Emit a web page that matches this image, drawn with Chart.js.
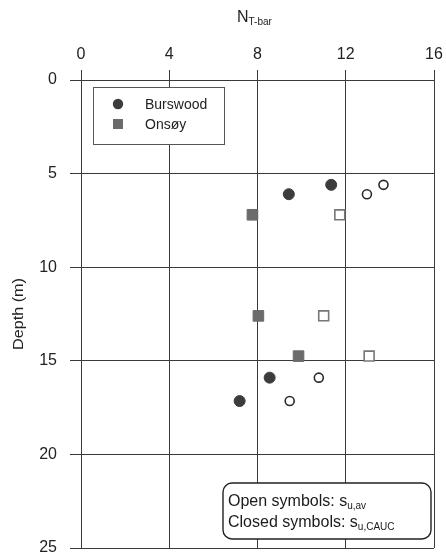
<!DOCTYPE html>
<html>
<head>
<meta charset="utf-8">
<script src="https://cdn.jsdelivr.net/npm/chart.js@4"></script>
<style>
  html, body { margin: 0; padding: 0; background: #fff; }
  #wrap { width: 446px; height: 557px; }
</style>
</head>
<body>
<div id="wrap"><canvas id="c" width="446" height="557"></canvas></div>
<script>
// T-bar factor N_T-bar against depth for two soft clay sites
const burswoodDepth = [5.6, 6.1, 15.9, 17.15];
const burswoodCAUC  = [11.34, 9.42, 8.55, 7.19];   // closed: s_u,CAUC
const burswoodAv    = [13.71, 12.96, 10.78, 9.46]; // open: s_u,av

const onsoyDepth = [7.2, 12.6, 14.75];
const onsoyCAUC  = [7.77, 8.04, 9.86];
const onsoyAv    = [11.73, 11.0, 13.06];

const xTicks = [0, 4, 8, 12, 16];
const yTicks = [0, 5, 10, 15, 20, 25];

const FONT = '"Liberation Sans", Arial, sans-serif';
const DARK = '#3c3c3c';
const GREY = '#6b6b6b';

const pts = (xs, ys) => xs.map((x, i) => ({ x: x, y: ys[i] }));

const datasets = [
  { label: 'Burswood', data: pts(burswoodCAUC, burswoodDepth), pointStyle: 'circle',
    pointRadius: 5.5, backgroundColor: DARK, borderColor: DARK, borderWidth: 1 },
  { label: 'Burswood (av)', data: pts(burswoodAv, burswoodDepth), pointStyle: 'circle',
    pointRadius: 4.5, backgroundColor: '#fff', borderColor: '#2a2a2a', borderWidth: 1.6 },
  { label: 'Onsøy', data: pts(onsoyCAUC, onsoyDepth), pointStyle: 'rect',
    pointRadius: 7.5, backgroundColor: GREY, borderColor: GREY, borderWidth: 1 },
  { label: 'Onsøy (av)', data: pts(onsoyAv, onsoyDepth), pointStyle: 'rect',
    pointRadius: 7, backgroundColor: '#fff', borderColor: '#777', borderWidth: 1.6 }
];

// Draws text with a trailing subscript
function subText(ctx, x, y, main, sub, size, subSize, drop) {
  ctx.font = size + 'px ' + FONT;
  ctx.fillText(main, x, y);
  const w = ctx.measureText(main).width;
  ctx.font = subSize + 'px ' + FONT;
  ctx.fillText(sub, x + w, y + drop);
}

function roundRect(ctx, x, y, w, h, r) {
  ctx.beginPath();
  ctx.moveTo(x + r, y);
  ctx.lineTo(x + w - r, y);
  ctx.arcTo(x + w, y, x + w, y + r, r);
  ctx.lineTo(x + w, y + h - r);
  ctx.arcTo(x + w, y + h, x + w - r, y + h, r);
  ctx.lineTo(x + r, y + h);
  ctx.arcTo(x, y + h, x, y + h - r, r);
  ctx.lineTo(x, y + r);
  ctx.arcTo(x, y, x + r, y, r);
  ctx.closePath();
}

const decorations = {
  id: 'decorations',
  afterDraw(chart) {
    const ctx = chart.ctx;
    const area = chart.chartArea;
    ctx.save();
    ctx.fillStyle = '#222';
    ctx.textBaseline = 'alphabetic';

    // top axis title
    ctx.textAlign = 'left';
    subText(ctx, 237, 22, 'N', 'T-bar', 16, 10, 3);

    // left axis title (slightly widened lettering)
    ctx.save();
    ctx.translate(23, (area.top + area.bottom) / 2);
    ctx.rotate(-Math.PI / 2);
    ctx.textAlign = 'center';
    ctx.font = '14px ' + FONT;
    const tw = ctx.measureText('Depth (m)').width;
    ctx.scale(72 / tw, 1);
    ctx.fillText('Depth (m)', 0, 0);
    ctx.restore();

    // legend box
    ctx.fillStyle = '#fff';
    ctx.fillRect(93.5, 87.5, 131, 57);
    ctx.strokeStyle = '#555';
    ctx.lineWidth = 1;
    ctx.strokeRect(93.5, 87.5, 131, 57);
    const legendRows = [
      { ds: datasets[0], y: 104 },
      { ds: datasets[2], y: 124 }
    ];
    legendRows.forEach(row => {
      const d = row.ds;
      ctx.fillStyle = d.backgroundColor;
      ctx.beginPath();
      if (d.pointStyle === 'rect') {
        ctx.rect(113, row.y - 5, 10, 10);
      } else {
        ctx.arc(118, row.y, 5.2, 0, Math.PI * 2);
      }
      ctx.fill();
      ctx.fillStyle = '#222';
      ctx.font = '14px ' + FONT;
      ctx.textAlign = 'left';
      ctx.textBaseline = 'middle';
      ctx.fillText(d.label, 145, row.y + 1);
    });

    // symbol note box
    ctx.textBaseline = 'alphabetic';
    roundRect(ctx, 223, 483, 208, 56, 9);
    ctx.fillStyle = '#fff';
    ctx.fill();
    ctx.strokeStyle = '#222';
    ctx.lineWidth = 1.4;
    ctx.stroke();
    ctx.fillStyle = '#1a1a1a';
    ctx.textAlign = 'left';
    subText(ctx, 228, 506, 'Open symbols: s', 'u,av', 16, 10, 3);
    subText(ctx, 228, 527, 'Closed symbols: s', 'u,CAUC', 16, 10, 3);
    ctx.restore();
  }
};

new Chart(document.getElementById('c'), {
  type: 'scatter',
  data: { datasets: datasets },
  options: {
    responsive: false,
    animation: false,
    devicePixelRatio: 1,
    layout: { padding: { top: 0, right: 12, bottom: 9, left: 0 } },
    plugins: {
      legend: { display: false },
      tooltip: { enabled: false }
    },
    scales: {
      x: {
        type: 'linear',
        position: 'top',
        min: 0, max: 16,
        afterBuildTicks: s => { s.ticks = xTicks.map(v => ({ value: v })); },
        afterFit: s => { s.height = 80; s.paddingLeft = 0; s.paddingRight = 0; },
        ticks: { color: '#222', font: { family: FONT, size: 16 }, padding: 6 },
        grid: { color: '#3a3a3a', lineWidth: 1, tickLength: 10, tickColor: '#3a3a3a' },
        border: { color: '#3a3a3a', width: 1 }
      },
      y: {
        type: 'linear',
        position: 'left',
        reverse: true,
        min: 0, max: 25,
        afterBuildTicks: s => { s.ticks = yTicks.map(v => ({ value: v })); },
        afterFit: s => { s.width = 81; s.paddingTop = 0; s.paddingBottom = 0; },
        ticks: { color: '#222', font: { family: FONT, size: 16 }, padding: 13 },
        grid: { color: '#3a3a3a', lineWidth: 1, tickLength: 11, tickColor: '#3a3a3a' },
        border: { color: '#3a3a3a', width: 1 }
      }
    }
  },
  plugins: [decorations]
});
</script>
</body>
</html>
